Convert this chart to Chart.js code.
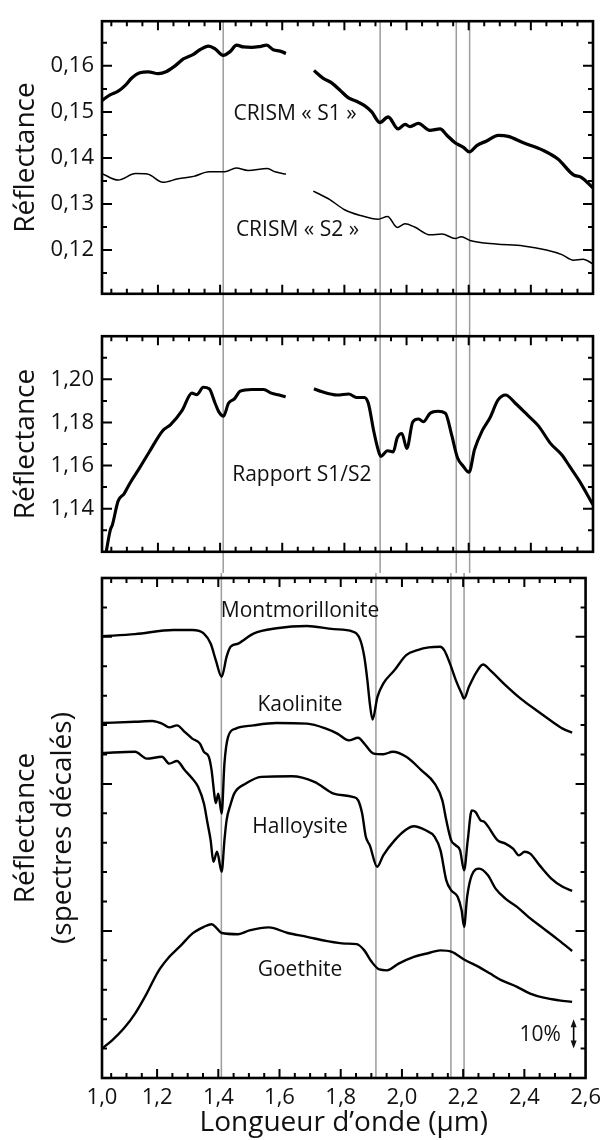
<!DOCTYPE html>
<html>
<head>
<meta charset="utf-8">
<script src="https://cdn.jsdelivr.net/npm/chart.js@4.4.1/dist/chart.umd.min.js"></script>
<style>
  html, body { margin: 0; padding: 0; background: #fff; }
  #wrap { position: relative; width: 608px; height: 1140px; }
  canvas { position: absolute; left: 0; }
  #c1 { top: 0; }
  #c2 { top: 315px; }
  #c3 { top: 573px; }
</style>
</head>
<body>
<div id="wrap">
  <canvas id="c1" width="608" height="315"></canvas>
  <canvas id="c2" width="608" height="258"></canvas>
  <canvas id="c3" width="608" height="567"></canvas>
</div>
<script>
// wavelengths (µm) of the grey reference lines
const refLines = [1.41, 1.915, 2.16, 2.203];

// x tick labels (the original plot starts its axis a touch right of 1.0)
const xTickValues = [1.02, 1.2, 1.4, 1.6, 1.8, 2.0, 2.2, 2.4, 2.6];
const xTickLabels = ['1,0', '1,2', '1,4', '1,6', '1,8', '2,0', '2,2', '2,4', '2,6'];
const y1TickValues = [0.12, 0.13, 0.14, 0.15, 0.16];
const y1TickLabels = ['0,12', '0,13', '0,14', '0,15', '0,16'];
const y2TickValues = [1.14, 1.16, 1.18, 1.20];
const y2TickLabels = ['1,14', '1,16', '1,18', '1,20'];

// CRISM S1 (thick)
const s1X = [1.02, 1.046, 1.072, 1.094, 1.115, 1.142, 1.169, 1.201, 1.228, 1.255, 1.282, 1.314, 1.335, 1.362, 1.384, 1.410, 1.432, 1.453, 1.475, 1.502, 1.528, 1.550, 1.571, 1.593, 1.612, 1.66, 1.702, 1.732, 1.759, 1.786, 1.812, 1.839, 1.866, 1.888, 1.914, 1.941, 1.973, 1.995, 2.011, 2.038, 2.075, 2.108, 2.129, 2.156, 2.183, 2.202, 2.226, 2.258, 2.295, 2.327, 2.376, 2.438, 2.488, 2.537, 2.562, 2.6];
const s1Y = [0.1525, 0.1537, 0.1545, 0.1557, 0.1573, 0.1585, 0.1587, 0.1583, 0.1588, 0.1600, 0.1615, 0.1625, 0.1635, 0.1643, 0.1637, 0.1623, 0.1631, 0.1645, 0.1641, 0.1640, 0.1642, 0.1645, 0.1635, 0.1632, 0.1627, null, 0.1590, 0.1573, 0.1563, 0.1547, 0.1531, 0.1523, 0.1513, 0.1500, 0.1477, 0.1489, 0.1463, 0.1473, 0.1468, 0.1475, 0.1460, 0.1463, 0.1450, 0.1433, 0.1423, 0.1413, 0.1427, 0.1437, 0.1449, 0.1447, 0.1433, 0.1417, 0.1397, 0.1363, 0.1358, 0.1335];

// CRISM S2 (thin)
const s2X = [1.02, 1.072, 1.128, 1.166, 1.216, 1.265, 1.315, 1.365, 1.415, 1.452, 1.490, 1.552, 1.577, 1.612, 1.66, 1.700, 1.752, 1.802, 1.852, 1.908, 1.939, 1.970, 1.995, 2.026, 2.076, 2.114, 2.157, 2.176, 2.207, 2.288, 2.376, 2.450, 2.500, 2.537, 2.568, 2.6];
const s2Y = [0.1366, 0.1352, 0.1366, 0.1365, 0.1347, 0.1355, 0.1360, 0.1370, 0.1370, 0.1378, 0.1373, 0.1377, 0.1370, 0.1365, null, 0.1328, 0.1310, 0.1287, 0.1275, 0.1267, 0.1273, 0.1249, 0.1257, 0.1250, 0.1233, 0.1235, 0.1225, 0.1229, 0.1220, 0.1213, 0.1209, 0.1200, 0.1190, 0.1178, 0.1180, 0.1170];

// ratio S1/S2
const ratioX = [1.03, 1.047, 1.053, 1.072, 1.091, 1.109, 1.141, 1.172, 1.216, 1.240, 1.278, 1.309, 1.325, 1.346, 1.365, 1.384, 1.396, 1.411, 1.427, 1.446, 1.465, 1.502, 1.540, 1.565, 1.590, 1.611, 1.66, 1.702, 1.726, 1.777, 1.814, 1.839, 1.864, 1.877, 1.895, 1.908, 1.917, 1.939, 1.957, 1.970, 1.985, 2.001, 2.020, 2.039, 2.054, 2.076, 2.101, 2.125, 2.145, 2.164, 2.183, 2.201, 2.219, 2.244, 2.269, 2.294, 2.319, 2.350, 2.388, 2.425, 2.463, 2.500, 2.525, 2.556, 2.6];
const ratioY = [1.117, 1.1303, 1.1323, 1.1436, 1.1469, 1.1516, 1.1589, 1.1663, 1.1763, 1.1789, 1.1856, 1.1936, 1.1929, 1.1963, 1.1956, 1.1889, 1.1849, 1.1829, 1.1889, 1.1909, 1.1945, 1.1953, 1.1953, 1.1936, 1.1927, 1.1919, null, 1.1956, 1.1943, 1.1927, 1.1932, 1.1916, 1.1916, 1.1889, 1.1756, 1.1676, 1.1643, 1.1669, 1.1663, 1.1729, 1.1749, 1.1679, 1.1803, 1.1816, 1.1803, 1.1843, 1.1852, 1.1843, 1.1743, 1.1636, 1.1596, 1.1569, 1.1676, 1.1763, 1.1823, 1.1903, 1.1927, 1.1889, 1.1836, 1.1783, 1.1703, 1.1649, 1.1596, 1.1529, 1.1418];

// laboratory spectra, offset (1 unit = 10 %)
const montX = [1.02, 1.128, 1.253, 1.315, 1.353, 1.375, 1.392, 1.411, 1.427, 1.440, 1.465, 1.515, 1.590, 1.690, 1.777, 1.839, 1.864, 1.877, 1.887, 1.895, 1.904, 1.920, 1.939, 1.976, 2.014, 2.051, 2.088, 2.125, 2.138, 2.157, 2.176, 2.195, 2.203, 2.219, 2.244, 2.265, 2.288, 2.338, 2.388, 2.438, 2.488, 2.525, 2.556];
const montY = [15.02, 15.09, 15.23, 15.23, 15.11, 14.77, 14.20, 13.64, 14.32, 14.66, 14.77, 15.11, 15.29, 15.37, 15.26, 15.18, 14.89, 14.32, 13.53, 12.74, 12.19, 12.96, 13.41, 13.87, 14.38, 14.55, 14.64, 14.66, 14.55, 14.09, 13.53, 13.07, 12.90, 13.30, 13.81, 14.06, 13.87, 13.36, 12.90, 12.51, 12.14, 11.88, 11.74];

const kaoX = [1.02, 1.128, 1.184, 1.216, 1.240, 1.265, 1.290, 1.315, 1.340, 1.353, 1.369, 1.378, 1.388, 1.392, 1.400, 1.411, 1.420, 1.432, 1.457, 1.515, 1.590, 1.690, 1.752, 1.789, 1.826, 1.857, 1.877, 1.908, 1.939, 1.970, 2.014, 2.063, 2.107, 2.132, 2.145, 2.161, 2.176, 2.190, 2.203, 2.215, 2.228, 2.240, 2.257, 2.269, 2.313, 2.338, 2.363, 2.382, 2.401, 2.419, 2.450, 2.488, 2.525, 2.556];
const kaoY = [12.07, 12.11, 12.14, 12.05, 11.92, 11.99, 11.77, 11.54, 11.37, 11.09, 10.92, 10.47, 9.56, 9.35, 9.67, 8.99, 10.69, 11.60, 11.88, 11.99, 12.07, 12.05, 11.88, 11.71, 11.48, 11.57, 11.37, 11.03, 11.01, 11.09, 10.92, 10.47, 10.01, 9.44, 8.76, 8.08, 7.91, 7.74, 7.06, 8.08, 9.10, 9.05, 8.76, 8.71, 8.08, 7.97, 7.80, 7.57, 7.69, 7.63, 7.23, 6.78, 6.50, 6.36];

const hallX = [1.02, 1.128, 1.166, 1.216, 1.240, 1.265, 1.290, 1.315, 1.334, 1.353, 1.365, 1.375, 1.384, 1.396, 1.411, 1.420, 1.427, 1.440, 1.452, 1.490, 1.540, 1.640, 1.714, 1.777, 1.839, 1.857, 1.870, 1.882, 1.895, 1.919, 1.939, 1.976, 2.014, 2.039, 2.076, 2.107, 2.126, 2.145, 2.161, 2.182, 2.195, 2.203, 2.213, 2.228, 2.253, 2.281, 2.306, 2.338, 2.376, 2.413, 2.463, 2.513, 2.556];
const hallY = [11.05, 11.09, 10.86, 10.92, 10.69, 10.78, 10.47, 10.18, 9.90, 9.33, 8.65, 8.08, 7.35, 7.69, 7.01, 8.08, 8.76, 9.30, 9.67, 10.01, 10.24, 10.26, 10.07, 9.67, 9.56, 9.44, 8.99, 8.20, 7.91, 7.18, 7.57, 8.08, 8.45, 8.56, 8.43, 8.20, 7.74, 6.72, 6.38, 6.16, 5.70, 5.14, 6.16, 6.89, 7.12, 6.89, 6.44, 6.10, 5.82, 5.48, 5.08, 4.68, 4.32];

const goeX = [1.02, 1.053, 1.091, 1.128, 1.166, 1.203, 1.240, 1.278, 1.315, 1.353, 1.378, 1.396, 1.411, 1.465, 1.502, 1.565, 1.627, 1.690, 1.752, 1.814, 1.852, 1.877, 1.901, 1.926, 1.951, 1.989, 2.039, 2.088, 2.125, 2.163, 2.203, 2.251, 2.288, 2.326, 2.376, 2.419, 2.463, 2.513, 2.556];
const goeY = [1.00, 1.28, 1.68, 2.19, 2.87, 3.61, 4.12, 4.51, 4.91, 5.14, 5.23, 5.08, 4.93, 4.89, 5.02, 5.12, 4.93, 4.80, 4.66, 4.57, 4.55, 4.34, 3.95, 3.69, 3.66, 3.89, 4.12, 4.25, 4.34, 4.29, 4.03, 3.78, 3.55, 3.32, 3.10, 2.87, 2.73, 2.64, 2.59];

Chart.defaults.font.family = '"Open Sans", "Noto Sans", sans-serif';
Chart.defaults.color = '#111';
Chart.defaults.animation = false;

const pts = (xs, ys) => xs.map((x, i) => ({x: x, y: ys[i]}));

function line(data, width) {
    return {
        data: data,
        borderColor: '#000',
        borderWidth: width,
        pointRadius: 0,
        spanGaps: false,
        cubicInterpolationMode: 'monotone'
    };
}

// inward tick marks on a 0.05 µm grid, longer every 0.2
const xTicks = [];
for (let i = 21; i <= 51; i++) xTicks.push([i * 0.05, i % 4 === 0]);

const y1Ticks = [];
for (let i = 23; i <= 33; i++) y1Ticks.push([i * 0.005, i % 2 === 0]);
const y2Ticks = [];
for (let i = 113; i <= 121; i++) y2Ticks.push([i * 0.01, i % 2 === 0]);
const y3Ticks = [];
for (let i = 1; i <= 16; i++) y3Ticks.push([i, i % 5 === 0]);

const framePlugin = {
    id: 'frame',
    beforeDatasetsDraw(chart, args, o) {
        const {ctx, chartArea: a} = chart;
        const x = chart.scales.x;
        ctx.save();
        ctx.strokeStyle = '#9c9c9c';
        ctx.lineWidth = 1.5;
        refLines.forEach(v => {
            const px = x.getPixelForValue(v);
            ctx.beginPath();
            ctx.moveTo(px, o.extendTop ? 0 : a.top);
            ctx.lineTo(px, o.extendBottom ? chart.height : a.bottom);
            ctx.stroke();
        });
        ctx.restore();
    },
    afterDraw(chart, args, o) {
        const {ctx, chartArea: a} = chart;
        const x = chart.scales.x, y = chart.scales.y;
        ctx.save();
        ctx.strokeStyle = '#000';
        ctx.lineWidth = 2;
        ctx.beginPath();
        xTicks.forEach(([v, major]) => {
            const px = x.getPixelForValue(v), len = major ? 9 : 5;
            ctx.moveTo(px, a.top); ctx.lineTo(px, a.top + len);
            ctx.moveTo(px, a.bottom); ctx.lineTo(px, a.bottom - len);
        });
        o.yTicks.forEach(([v, major]) => {
            const py = y.getPixelForValue(v), len = major ? 10 : 5;
            ctx.moveTo(a.left, py); ctx.lineTo(a.left + len, py);
            ctx.moveTo(a.right, py); ctx.lineTo(a.right - len, py);
        });
        ctx.stroke();
        ctx.lineWidth = 2.6;
        ctx.strokeRect(a.left, a.top, a.right - a.left, a.bottom - a.top);

        // curve names
        ctx.fillStyle = '#111';
        ctx.font = '21px "Open Sans", sans-serif';
        ctx.textAlign = 'center';
        ctx.textBaseline = 'middle';
        (o.labels || []).forEach(l => {
            ctx.fillText(l.text, x.getPixelForValue(l.x), y.getPixelForValue(l.y));
        });

        // 10 % scale arrow
        if (o.arrow) {
            const px = x.getPixelForValue(o.arrow.x);
            const p0 = y.getPixelForValue(o.arrow.from), p1 = y.getPixelForValue(o.arrow.to);
            ctx.lineWidth = 1.6;
            ctx.beginPath();
            ctx.moveTo(px, p0 - 4); ctx.lineTo(px, p1 + 4);
            ctx.stroke();
            ctx.beginPath();
            ctx.moveTo(px, p1); ctx.lineTo(px - 3, p1 + 8); ctx.lineTo(px + 3, p1 + 8); ctx.closePath();
            ctx.moveTo(px, p0); ctx.lineTo(px - 3, p0 - 8); ctx.lineTo(px + 3, p0 - 8); ctx.closePath();
            ctx.fill();
        }
        ctx.restore();
    }
};

function yScale(min, max, values, labels, title, lineHeight, padTop) {
    return {
        type: 'linear',
        min: min,
        max: max,
        grid: { display: false, drawTicks: false },
        border: { display: false },
        afterFit: s => { s.width = 102; },
        afterBuildTicks: s => { s.ticks = values.map(v => ({value: v})); },
        ticks: {
            display: values.length > 0,
            padding: 8,
            font: { size: 22 },
            color: '#111',
            callback: (v, i) => labels[i]
        },
        title: {
            display: true,
            text: title,
            font: { size: 28, lineHeight: lineHeight },
            color: '#111',
            padding: { top: padTop, bottom: 0 }
        }
    };
}

const hiddenX = { type: 'linear', min: 1.02, max: 2.6, display: false };

new Chart(document.getElementById('c1'), {
    type: 'line',
    data: {
        datasets: [line(pts(s1X, s1Y), 3.3), line(pts(s2X, s2Y), 1.5)]
    },
    options: {
        responsive: false,
        layout: { padding: { top: 13, right: 15, bottom: 6, left: 0 } },
        plugins: {
            legend: { display: false },
            tooltip: { enabled: false },
            frame: {
                extendTop: false, extendBottom: true, yTicks: y1Ticks,
                labels: [
                    { text: 'CRISM « S1 »', x: 1.641, y: 0.1495 },
                    { text: 'CRISM « S2 »', x: 1.649, y: 0.1243 }
                ]
            }
        },
        scales: {
            x: hiddenX,
            y: yScale(0.1105, 0.1697, y1TickValues, y1TickLabels, 'Réflectance', 1.2, 9)
        }
    },
    plugins: [framePlugin]
});

new Chart(document.getElementById('c2'), {
    type: 'line',
    data: {
        datasets: [line(pts(ratioX, ratioY), 3.1)]
    },
    options: {
        responsive: false,
        layout: { padding: { top: 5, right: 15, bottom: 5, left: 0 } },
        plugins: {
            legend: { display: false },
            tooltip: { enabled: false },
            frame: {
                extendTop: true, extendBottom: true, yTicks: y2Ticks,
                labels: [ { text: 'Rapport S1/S2', x: 1.663, y: 1.1556 } ]
            }
        },
        scales: {
            x: hiddenX,
            y: yScale(1.12, 1.22, y2TickValues, y2TickLabels, 'Réflectance', 1.2, 9)
        }
    },
    plugins: [framePlugin]
});

new Chart(document.getElementById('c3'), {
    type: 'line',
    data: {
        datasets: [
            line(pts(montX, montY), 2.4),
            line(pts(kaoX, kaoY), 2.4),
            line(pts(hallX, hallY), 2.4),
            line(pts(goeX, goeY), 2.4)
        ]
    },
    options: {
        responsive: false,
        layout: { padding: { top: 5, right: 15, bottom: 0, left: 0 } },
        plugins: {
            legend: { display: false },
            tooltip: { enabled: false },
            frame: {
                extendTop: true, extendBottom: false, yTicks: y3Ticks,
                labels: [
                    { text: 'Montmorillonite', x: 1.667, y: 15.88 },
                    { text: 'Kaolinite', x: 1.667, y: 12.68 },
                    { text: 'Halloysite', x: 1.667, y: 8.54 },
                    { text: 'Goethite', x: 1.667, y: 3.66 },
                    { text: '10%', x: 2.452, y: 1.45 }
                ],
                arrow: { x: 2.561, from: 1, to: 2 }
            }
        },
        scales: {
            x: {
                type: 'linear',
                min: 1.02,
                max: 2.6,
                grid: { display: false, drawTicks: false },
                border: { display: false },
                afterFit: s => { s.height = 62; },
                afterBuildTicks: s => { s.ticks = xTickValues.map(v => ({value: v})); },
                ticks: {
                    autoSkip: false,
                    maxRotation: 0,
                    padding: 7,
                    font: { size: 22 },
                    color: '#111',
                    callback: (v, i) => xTickLabels[i]
                },
                title: {
                    display: true,
                    text: 'Longueur d’onde (µm)',
                    font: { size: 28 },
                    color: '#111',
                    padding: { top: 0, bottom: 0 }
                }
            },
            y: yScale(0, 17, [], [], ['Réflectance', '(spectres décalés)'], 1.3, 8)
        }
    },
    plugins: [framePlugin]
});
</script>
</body>
</html>
